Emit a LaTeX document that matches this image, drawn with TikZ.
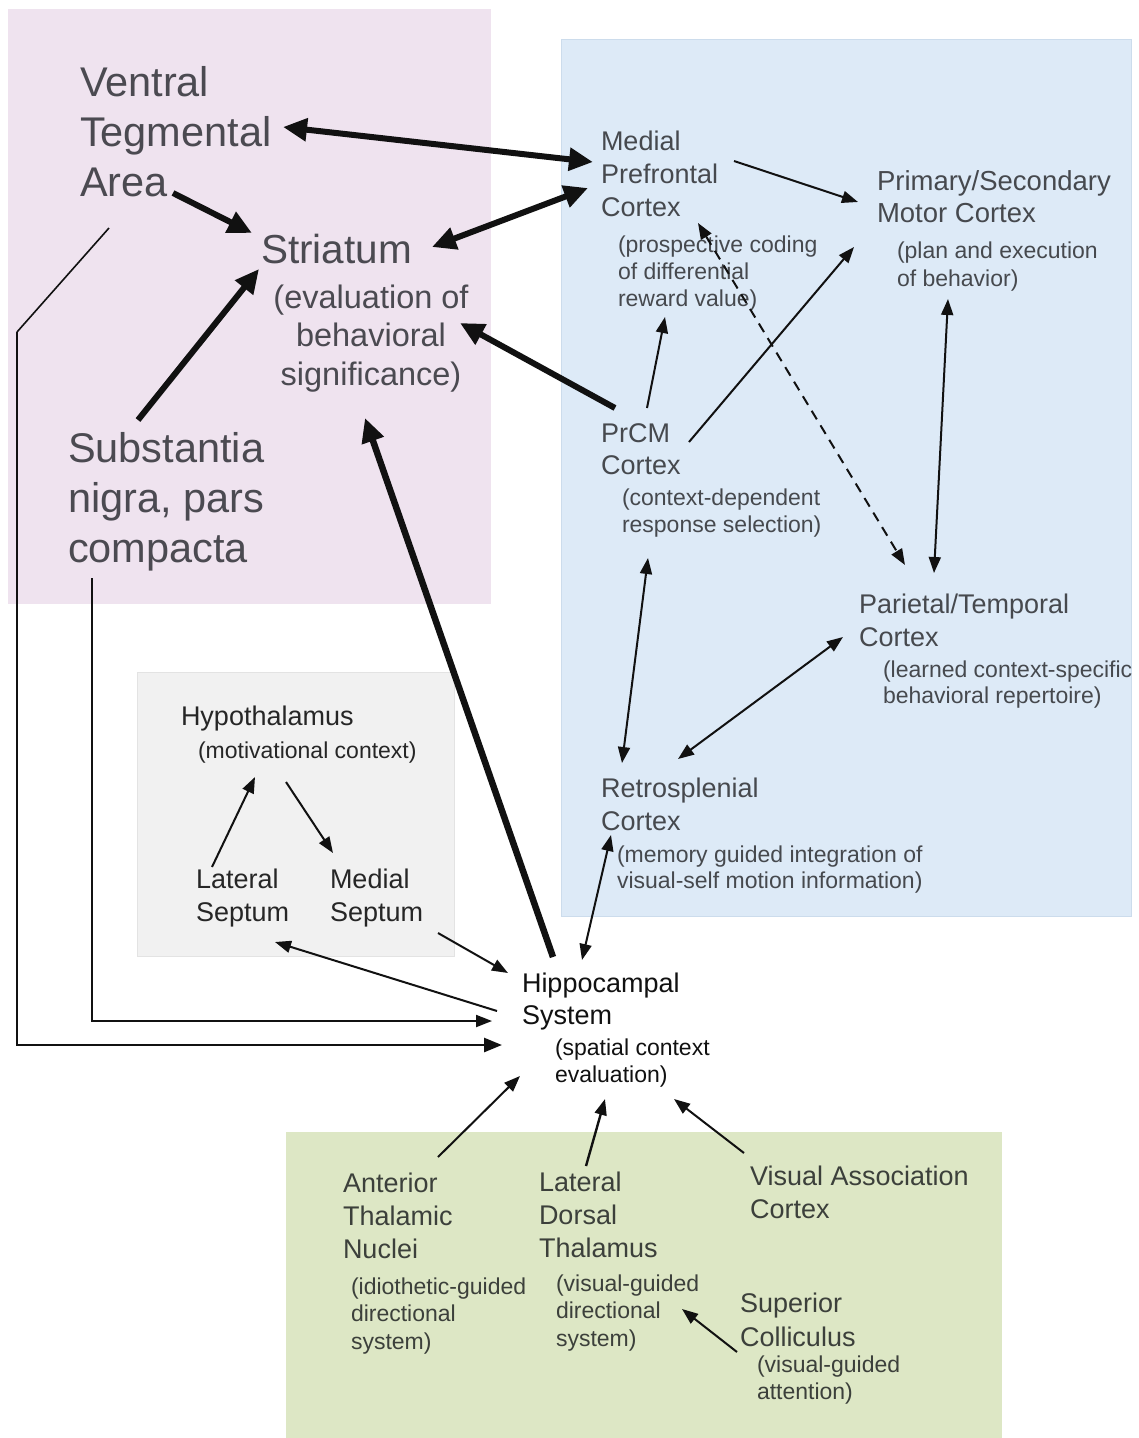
\documentclass[tikz,border=0pt]{standalone}
\usepackage{fontspec}
\setmainfont{Liberation Sans}
\usetikzlibrary{arrows.meta}
\definecolor{pinkbg}{HTML}{EFE3EF}
\definecolor{bluebg}{HTML}{DDEAF7}
\definecolor{blueedge}{HTML}{CCDCEC}
\definecolor{graybg}{HTML}{F1F1F1}
\definecolor{grayedge}{HTML}{E3E3E3}
\definecolor{greenbg}{HTML}{DDE7C5}
\definecolor{txtpink}{HTML}{4B4A51}
\definecolor{txtblue}{HTML}{46494E}
\definecolor{txtgray}{HTML}{262626}
\definecolor{txthip}{HTML}{111111}
\definecolor{txtgreen}{HTML}{3C403B}
\definecolor{arrowc}{HTML}{111111}
\newcommand\mlinesl[1]{\begin{tabular}[t]{@{}l@{}}#1\end{tabular}}
\newcommand\mlinesc[1]{\begin{tabular}[t]{@{}c@{}}#1\end{tabular}}
\begin{document}
\begin{tikzpicture}[x=1pt,y=-1pt,
  lbl/.style={inner sep=0pt, outer sep=0pt, anchor=base west},
  bigt/.style={lbl, font=\fontsize{41.5}{50}\selectfont, text=txtpink},
  evalt/.style={inner sep=0pt, outer sep=0pt, anchor=base, font=\fontsize{32.5}{38.5}\selectfont, text=txtpink},
  medt/.style={lbl, font=\fontsize{27}{33}\selectfont},
  smallt/.style={lbl, font=\fontsize{23}{27.3}\selectfont},
  thkarr/.style={draw=arrowc, line width=6pt, -{Triangle[length=24pt,width=22pt]}},
  thkdbl/.style={draw=arrowc, line width=6pt, {Triangle[length=24pt,width=22pt]}-{Triangle[length=24pt,width=22pt]}},
  thnarr/.style={draw=arrowc, line width=2pt, -{Triangle[length=16pt,width=12pt]}},
  thndbl/.style={draw=arrowc, line width=2pt, {Triangle[length=16pt,width=12pt]}-{Triangle[length=16pt,width=12pt]}}
]
\useasboundingbox (0,0) rectangle (1139,1438);
\fill[white] (0,0) rectangle (1139,1438);
% region backgrounds
\fill[pinkbg] (8,9) rectangle (491,604);
\filldraw[fill=bluebg, draw=blueedge, line width=1pt] (561,39) rectangle (1131,916);
\filldraw[fill=graybg, draw=grayedge, line width=1pt] (137,672) rectangle (454,956);
\fill[greenbg] (286,1132) rectangle (1002,1438);

% pink region
\node[bigt] (vta) at (80,96) {\mlinesl{Ventral\\Tegmental\\Area}};
\node[bigt, font=\fontsize{40.5}{50}\selectfont] (str) at (261,263) {Striatum};
\node[evalt] (strs) at (371,308) {\mlinesc{(evaluation of\\behavioral\\significance)}};
\node[bigt] (snc) at (68,462) {\mlinesl{Substantia\\nigra, pars\\compacta}};

% blue region
\node[medt, text=txtblue] (mpfc) at (601,150) {\mlinesl{Medial\\Prefrontal\\Cortex}};
\node[smallt, text=txtblue] (mpfcs) at (618,252) {\mlinesl{(prospective coding\\of differential\\reward value)}};
\node[medt, text=txtblue, font=\fontsize{27.5}{32.5}\selectfont] (mot) at (877,190) {\mlinesl{Primary/Secondary\\Motor Cortex}};
\node[smallt, text=txtblue, font=\fontsize{23}{28}\selectfont] (mots) at (897,258) {\mlinesl{(plan and execution\\of behavior)}};
\node[medt, text=txtblue, font=\fontsize{27}{32.5}\selectfont] (prcm) at (601,442) {\mlinesl{PrCM\\Cortex}};
\node[smallt, text=txtblue] (prcms) at (622,505) {\mlinesl{(context-dependent\\response selection)}};
\node[medt, text=txtblue] (par) at (859,613) {\mlinesl{Parietal/Temporal\\Cortex}};
\node[smallt, text=txtblue, font=\fontsize{23}{26.5}\selectfont] (pars) at (883,677) {\mlinesl{(learned context-specific\\behavioral repertoire)}};
\node[medt, text=txtblue] (ret) at (601,797) {\mlinesl{Retrosplenial\\Cortex}};
\node[smallt, text=txtblue, font=\fontsize{23}{26.5}\selectfont] (rets) at (617,862) {\mlinesl{(memory guided integration of\\visual-self motion information)}};

% gray region
\node[medt, text=txtgray] (hyp) at (181,725) {Hypothalamus};
\node[smallt, text=txtgray] (hyps) at (198,758) {(motivational context)};
\node[medt, text=txtgray] (ls) at (196,888) {\mlinesl{Lateral\\Septum}};
\node[medt, text=txtgray] (ms) at (330,888) {\mlinesl{Medial\\Septum}};

% hippocampal system
\node[medt, text=txthip, font=\fontsize{27}{32}\selectfont] (hip) at (522,992) {\mlinesl{Hippocampal\\System}};
\node[smallt, text=txthip] (hips) at (555,1055) {\mlinesl{(spatial context\\evaluation)}};

% green region
\node[medt, text=txtgreen] (atn) at (343,1192) {\mlinesl{Anterior\\Thalamic\\Nuclei}};
\node[smallt, text=txtgreen, font=\fontsize{23}{27.5}\selectfont] (atns) at (351,1294) {\mlinesl{(idiothetic-guided\\directional\\system)}};
\node[medt, text=txtgreen] (ldt) at (539,1191) {\mlinesl{Lateral\\Dorsal\\Thalamus}};
\node[smallt, text=txtgreen, font=\fontsize{23}{27.5}\selectfont] (ldts) at (556,1291) {\mlinesl{(visual-guided\\directional\\system)}};
\node[medt, text=txtgreen] (vac) at (750,1185) {\mlinesl{Visual Association\\Cortex}};
\node[medt, text=txtgreen, font=\fontsize{27}{34}\selectfont] (sc) at (740,1312) {\mlinesl{Superior\\Colliculus}};
\node[smallt, text=txtgreen] (scs) at (757,1372) {\mlinesl{(visual-guided\\attention)}};

% thick connectors
\draw[thkdbl] ([shift={(203,31)}]vta.base west) -- ([shift={(-8,12)}]mpfc.base west);
\draw[thkarr] ([shift={(93,97)}]vta.base west) -- ([shift={(-9,-30)}]str.base west);
\draw[thkdbl] ([shift={(171,-16)}]str.base west) -- ([shift={(-13,38)}]mpfc.base west);
\draw[thkarr] ([shift={(70,-42)}]snc.base west) -- ([shift={(-2,6)}]str.base west);
\draw[thkarr] ([shift={(14,-34)}]prcm.base west) -- ([shift={(89,15)}]strs.base);
\draw[thkarr, line width=6.5pt] ([shift={(31,-35)}]hip.base west) -- ([shift={(-6,110)}]strs.base);

% thin connectors, blue region
\draw[thnarr] ([shift={(133,11)}]mpfc.base west) -- ([shift={(-19,12)}]mot.base west);
\draw[thnarr] ([shift={(46,-34)}]prcm.base west) -- ([shift={(47,65)}]mpfcs.base west);
\draw[thnarr] ([shift={(88,0)}]prcm.base west) -- ([shift={(-23,57)}]mot.base west);
\draw[thndbl, dash pattern=on 10pt off 7pt] ([shift={(97,73)}]mpfc.base west) -- ([shift={(46,-48)}]par.base west);
\draw[thndbl] ([shift={(51,41)}]mots.base west) -- ([shift={(75,-40)}]par.base west);
\draw[thndbl] ([shift={(26,53)}]prcms.base west) -- ([shift={(21,-34)}]ret.base west);
\draw[thndbl] ([shift={(-16,24)}]par.base west) -- ([shift={(77,-38)}]ret.base west);
\draw[thndbl] ([shift={(60,-32)}]hip.base west) -- ([shift={(-6,-27)}]rets.base west);

% gray region and hippocampus
\draw[thnarr] ([shift={(108,45)}]ms.base west) -- ([shift={(-14,-19)}]hip.base west);
\draw[thnarr] ([shift={(-25,19)}]hip.base west) -- ([shift={(79,54)}]ls.base west);
\draw[thnarr] ([shift={(16,-21)}]ls.base west) -- ([shift={(57,19)}]hyps.base west);
\draw[thnarr] ([shift={(88,24)}]hyps.base west) -- ([shift={(3,-35)}]ms.base west);
\draw[thnarr] ([shift={(24,116)}]snc.base west) |- ([shift={(-30,29)}]hip.base west);
\draw[draw=arrowc, line width=1.6pt] ([shift={(29,132)}]vta.base west) -- ++(-92,104) coordinate (vtacorner);
\draw[draw=arrowc, line width=2.6pt, -{Triangle[length=18pt,width=14pt]}] (vtacorner) |- ([shift={(-20,53)}]hip.base west);

% green region to hippocampus
\draw[thnarr] ([shift={(95,-35)}]atn.base west) -- ([shift={(-35,21)}]hips.base west);
\draw[thnarr, line width=2.4pt] ([shift={(47,-25)}]ldt.base west) -- ([shift={(50,44)}]hips.base west);
\draw[thnarr] ([shift={(-6,-32)}]vac.base west) -- ([shift={(119,44)}]hips.base west);
\draw[thnarr] ([shift={(-3,40)}]sc.base west) -- ([shift={(126,18)}]ldts.base west);
\end{tikzpicture}
\end{document}
